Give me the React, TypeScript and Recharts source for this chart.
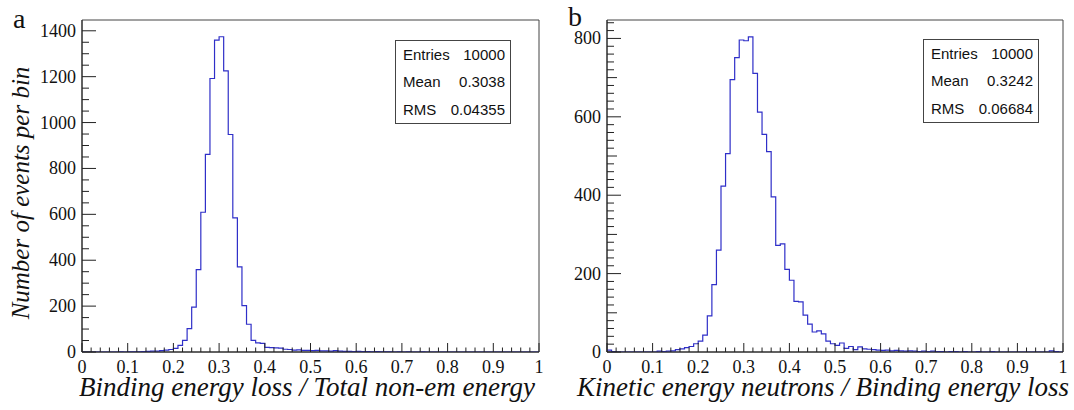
import React from 'react';
import { LineChart, Line, XAxis, YAxis, ReferenceArea } from 'recharts';

// 100 bins of width 0.01 between 0 and 1
const bindingCounts = [
  0, 0, 0, 0, 0, 0, 0, 0, 1, 0,
  1, 1, 1, 2, 3, 4, 4, 6, 8, 11,
  16, 29, 51, 102, 196, 359, 609, 861, 1192, 1359,
  1374, 1225, 948, 585, 371, 202, 121, 51, 40, 38,
  20, 19, 18, 17, 12, 11, 8, 9, 7, 7,
  6, 7, 5, 5, 4, 6, 4, 3, 3, 2,
  3, 2, 2, 1, 2, 1, 1, 1, 0, 1,
  0, 1, 0, 0, 1, 0, 0, 0, 0, 0,
  0, 0, 0, 0, 0, 0, 0, 0, 0, 0,
  0, 0, 0, 0, 0, 0, 0, 0, 0, 0,
];

const neutronCounts = [
  5, 1, 0, 0, 0, 0, 0, 0, 0, 0,
  0, 2, 1, 2, 3, 6, 8, 11, 14, 21,
  28, 43, 92, 172, 260, 423, 506, 695, 751, 796,
  794, 804, 711, 612, 555, 511, 396, 272, 276, 211,
  183, 129, 128, 94, 71, 51, 54, 46, 28, 21,
  17, 23, 9, 14, 6, 13, 8, 7, 6, 5,
  4, 5, 3, 4, 3, 2, 3, 2, 1, 2,
  1, 2, 1, 1, 0, 1, 1, 0, 1, 0,
  0, 1, 0, 0, 1, 0, 0, 0, 0, 0,
  0, 0, 0, 0, 0, 0, 0, 3, 1, 0,
];

const xTicks = [
  0, 0.02, 0.04, 0.06, 0.08, 0.1, 0.12, 0.14, 0.16, 0.18, 0.2, 0.22, 0.24, 0.26, 0.28,
  0.3, 0.32, 0.34, 0.36, 0.38, 0.4, 0.42, 0.44, 0.46, 0.48, 0.5, 0.52, 0.54, 0.56, 0.58,
  0.6, 0.62, 0.64, 0.66, 0.68, 0.7, 0.72, 0.74, 0.76, 0.78, 0.8, 0.82, 0.84, 0.86, 0.88,
  0.9, 0.92, 0.94, 0.96, 0.98, 1,
];
const xMajorTicks = [0, 0.1, 0.2, 0.3, 0.4, 0.5, 0.6, 0.7, 0.8, 0.9, 1];

const leftYTicks = [
  0, 50, 100, 150, 200, 250, 300, 350, 400, 450, 500, 550, 600, 650, 700,
  750, 800, 850, 900, 950, 1000, 1050, 1100, 1150, 1200, 1250, 1300, 1350, 1400,
];
const leftYMajor = [0, 200, 400, 600, 800, 1000, 1200, 1400];

const rightYTicks = [
  0, 20, 40, 60, 80, 100, 120, 140, 160, 180, 200, 220, 240, 260, 280, 300, 320, 340,
  360, 380, 400, 420, 440, 460, 480, 500, 520, 540, 560, 580, 600, 620, 640, 660, 680,
  700, 720, 740, 760, 780, 800, 820, 840,
];
const rightYMajor = [0, 200, 400, 600, 800];
const rightYMid = [100, 300, 500, 700];

const leftStats = [
  ['Entries', '10000'],
  ['Mean', '0.3038'],
  ['RMS', '0.04355'],
];
const rightStats = [
  ['Entries', '10000'],
  ['Mean', '0.3242'],
  ['RMS', '0.06684'],
];

const SERIF = '"Liberation Serif", "DejaVu Serif", serif';
const SANS = '"Liberation Sans", Arial, sans-serif';
const LINE = '#2f2fc8';
const AXIS = '#222';

function toBins(counts: number[]) {
  const data = counts.map((c, i) => ({ x: Number((i * 0.01).toFixed(2)), count: c }));
  data.push({ x: 1, count: counts[counts.length - 1] });
  return data;
}

const XTick = (props: any) => {
  const { x, y, payload } = props;
  const v = payload.value as number;
  const major = xMajorTicks.includes(v);
  return (
    <g>
      <line x1={x} x2={x} y1={y} y2={y - (major ? 9 : 4.5)} stroke={AXIS} strokeWidth={1} />
      {major && (
        <text x={x} y={y + 21} textAnchor="middle" fontFamily={SERIF} fontSize={18} fill="#111">
          {String(v)}
        </text>
      )}
    </g>
  );
};

const makeYTick = (majors: number[], mids: number[]) => (props: any) => {
  const { x, y, payload } = props;
  const v = payload.value as number;
  const major = majors.includes(v);
  const len = major ? 14 : mids.includes(v) ? 10 : 7;
  return (
    <g>
      <line x1={x} x2={x + len} y1={y} y2={y} stroke={AXIS} strokeWidth={1} />
      {major && (
        <text x={x - 6} y={y + 6} textAnchor="end" fontFamily={SERIF} fontSize={18} fill="#111">
          {String(v)}
        </text>
      )}
    </g>
  );
};

interface HistProps {
  counts: number[];
  width: number;
  yAxisWidth: number;
  rightMargin: number;
  yMax: number;
  yTicks: number[];
  yMajor: number[];
  yMid: number[];
  xTitle: string;
  xTitleShift: number;
  yTitle?: string;
}

const Histogram: React.FC<HistProps> = ({
  counts, width, yAxisWidth, rightMargin, yMax, yTicks, yMajor, yMid, xTitle, xTitleShift, yTitle,
}) => {
  const data = toBins(counts);
  const YTick = makeYTick(yMajor, yMid);
  return (
    <LineChart width={width} height={410} data={data} margin={{ top: 20, right: rightMargin, left: 0, bottom: 0 }}>
      <ReferenceArea x1={0} x2={1} y1={0} y2={yMax} fill="none" stroke="#444" strokeWidth={1} ifOverflow="visible" />
      <XAxis
        dataKey="x"
        type="number"
        domain={[0, 1]}
        ticks={xTicks}
        interval={0}
        tickSize={0}
        tickMargin={0}
        tickLine={false}
        axisLine={{ stroke: AXIS }}
        height={58}
        tick={<XTick />}
        label={(p: any) => {
          const vb = p.viewBox;
          return (
            <text x={vb.x + vb.width + xTitleShift} y={vb.y + 44} textAnchor="end" fontFamily={SERIF} fontStyle="italic" fontSize={27} fill="#111">
              {xTitle}
            </text>
          );
        }}
      />
      <YAxis
        type="number"
        domain={[0, yMax]}
        allowDataOverflow
        ticks={yTicks}
        interval={0}
        tickSize={0}
        tickMargin={0}
        tickLine={false}
        axisLine={{ stroke: AXIS }}
        width={yAxisWidth}
        tick={<YTick />}
        label={
          yTitle
            ? (p: any) => {
                const vb = p.viewBox;
                const cx = 29;
                const cy = vb.y + vb.height / 2 + 7;
                return (
                  <text x={cx} y={cy} transform={`rotate(-90, ${cx}, ${cy})`} textAnchor="middle" fontFamily={SERIF} fontStyle="italic" fontSize={25} fill="#111">
                    {yTitle}
                  </text>
                );
              }
            : undefined
        }
      />
      <Line type="stepAfter" dataKey="count" stroke={LINE} strokeWidth={1.2} dot={false} isAnimationActive={false} />
    </LineChart>
  );
};

const StatsBox: React.FC<{ rows: string[][]; left: number; top: number }> = ({ rows, left, top }) => (
  <div
    style={{
      position: 'absolute', left, top, width: 114, height: 82, border: '1px solid #444', background: '#fff',
      fontFamily: SANS, fontSize: 15, color: '#111', display: 'flex', flexDirection: 'column',
    }}
  >
    {rows.map(([k, v]) => (
      <div key={k} style={{ flex: 1, display: 'flex', alignItems: 'center', justifyContent: 'space-between', padding: '0 5px 0 7px' }}>
        <span>{k}</span>
        <span>{v}</span>
      </div>
    ))}
  </div>
);

export default function App() {
  return (
    <div style={{ position: 'relative', width: 1074, height: 410, overflow: 'hidden', background: '#fff' }}>
      <style>{'body{margin:0}'}</style>
      <div style={{ position: 'absolute', left: 0, top: 0 }}>
        <Histogram
          counts={bindingCounts}
          width={560}
          yAxisWidth={82}
          rightMargin={21}
          yMax={1447}
          yTicks={leftYTicks}
          yMajor={leftYMajor}
          yMid={[]}
          xTitle="Binding energy loss / Total non-em energy"
          xTitleShift={-4}
          yTitle="Number of events per bin"
        />
      </div>
      <div style={{ position: 'absolute', left: 540, top: 0 }}>
        <Histogram
          counts={neutronCounts}
          width={534}
          yAxisWidth={67}
          rightMargin={11}
          yMax={847}
          yTicks={rightYTicks}
          yMajor={rightYMajor}
          yMid={rightYMid}
          xTitle="Kinetic energy neutrons / Binding energy loss"
          xTitleShift={6}
        />
      </div>
      <StatsBox rows={leftStats} left={395} top={40} />
      <StatsBox rows={rightStats} left={923} top={39} />
      <div style={{ position: 'absolute', left: 13, top: 3, fontFamily: SERIF, fontSize: 28, lineHeight: 'normal', color: '#111' }}>a</div>
      <div style={{ position: 'absolute', left: 568, top: 1, fontFamily: SERIF, fontSize: 28, lineHeight: 'normal', color: '#111' }}>b</div>
    </div>
  );
}
